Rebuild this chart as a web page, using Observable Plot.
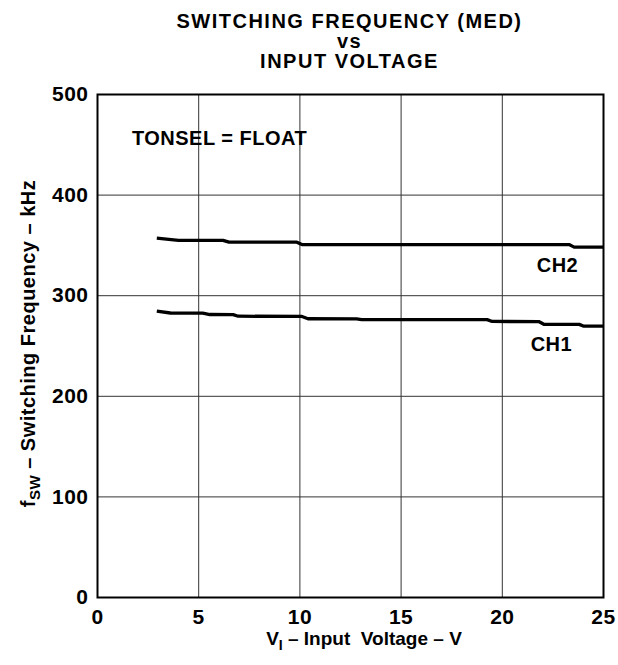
<!DOCTYPE html>
<html>
<head>
<meta charset="utf-8">
<script src="https://cdn.jsdelivr.net/npm/d3@7"></script>
<script src="https://cdn.jsdelivr.net/npm/@observablehq/plot@0.6"></script>
<style>
  html, body { margin: 0; padding: 0; background: white; }
  #title {
    box-sizing: border-box;
    height: 72px;
    width: 505px;
    margin-left: 97px;
    padding-top: 11px;
    text-align: center;
    font: bold 20px "Liberation Sans", Arial, sans-serif;
    letter-spacing: 1.5px;
    line-height: 20px;
    color: black;
  }
  #chart svg { display: block; }
</style>
</head>
<body>
<div id="title">SWITCHING FREQUENCY (MED)<br>vs<br>INPUT VOLTAGE</div>
<div id="chart"></div>
<script>
// ---- data ----
const xTicks = [0, 5, 10, 15, 20, 25];
const yTicks = [0, 100, 200, 300, 400, 500];

const ch2V = [2.93, 4.0, 6.2, 6.5, 9.85, 10.1, 23.3, 23.55, 25];
const ch2F = [357.2, 355, 355, 353.2, 353.2, 350.8, 350.8, 348.3, 348.3];

const ch1V = [2.93, 3.6, 5.2, 5.55, 6.7, 6.95, 10.1, 10.4, 12.8, 13.05, 19.25, 19.5, 21.8, 22.05, 23.8, 24.0, 25];
const ch1F = [284.6, 282.8, 282.6, 281.3, 281.2, 279.6, 279.4, 277.1, 277, 276.3, 276.2, 274.4, 274.3, 271.6, 271.5, 269.8, 269.8];

const annoText = ["TONSEL = FLOAT", "CH2", "CH1"];
const annoV = [1.7, 21.7, 21.4];
const annoF = [456, 330, 251];

// ---- build tables ----
const series = [
  ...ch2V.map((v, i) => ({ch: "CH2", v, f: ch2F[i]})),
  ...ch1V.map((v, i) => ({ch: "CH1", v, f: ch1F[i]}))
];
const annos = annoText.map((t, i) => ({t, v: annoV[i], f: annoF[i]}));
const innerX = xTicks.slice(1, -1);
const innerY = yTicks.slice(1, -1);

const FONT = "'Liberation Sans', Arial, Helvetica, sans-serif";
const W = 618, H = 593;
const mL = 97, mR = 15, mT = 22, mB = 68;

const plot = Plot.plot({
  width: W,
  height: H,
  marginLeft: mL,
  marginRight: mR,
  marginTop: mT,
  marginBottom: mB,
  style: {fontSize: "21px", fontFamily: FONT, fontWeight: "bold", letterSpacing: "0.5px", background: "white", color: "black", overflow: "visible"},
  x: {domain: [0, 25], ticks: xTicks, tickSize: 0, tickPadding: 12, label: null, tickFormat: d => String(d)},
  y: {domain: [0, 500], ticks: yTicks, tickSize: 0, tickPadding: 9, label: null, tickFormat: d => String(d)},
  marks: [
    Plot.ruleX(innerX, {stroke: "#333", strokeWidth: 1}),
    Plot.ruleY(innerY, {stroke: "#333", strokeWidth: 1}),
    Plot.line(series, {x: "v", y: "f", z: "ch", stroke: "black", strokeWidth: 3.3, strokeLinejoin: "round", strokeLinecap: "butt"}),
    Plot.text(annos, {x: "v", y: "f", text: "t", textAnchor: "start", fontSize: 20, fontWeight: "bold", fill: "black"}),
    Plot.frame({stroke: "black", strokeWidth: 2})
  ]
});

document.getElementById("chart").appendChild(plot);

// ---- axis titles with subscripts ----
const svg = d3.select(plot);
const cy = mT + (H - mT - mB) / 2;

const xl = svg.append("text")
  .attr("x", 364).attr("y", 572.5)
  .attr("text-anchor", "middle")
  .style("white-space", "pre")
  .style("letter-spacing", "0px")
  .attr("font-size", 19).attr("font-weight", "bold").attr("font-family", FONT).attr("fill", "black");
xl.append("tspan").text("V");
xl.append("tspan").attr("dy", 5).attr("font-size", 14).text("I");
xl.append("tspan").attr("dy", -5).text(" – Input  Voltage – V");

const yl = svg.append("text")
  .attr("transform", `translate(35,${cy - 2}) rotate(-90)`)
  .attr("text-anchor", "middle")
  .attr("font-size", 20).attr("font-weight", "bold").attr("font-family", FONT).attr("fill", "black");
yl.append("tspan").text("f");
yl.append("tspan").attr("dy", 5).attr("font-size", 15).text("SW");
yl.append("tspan").attr("dy", -5).text(" – Switching Frequency – kHz");
</script>
</body>
</html>
